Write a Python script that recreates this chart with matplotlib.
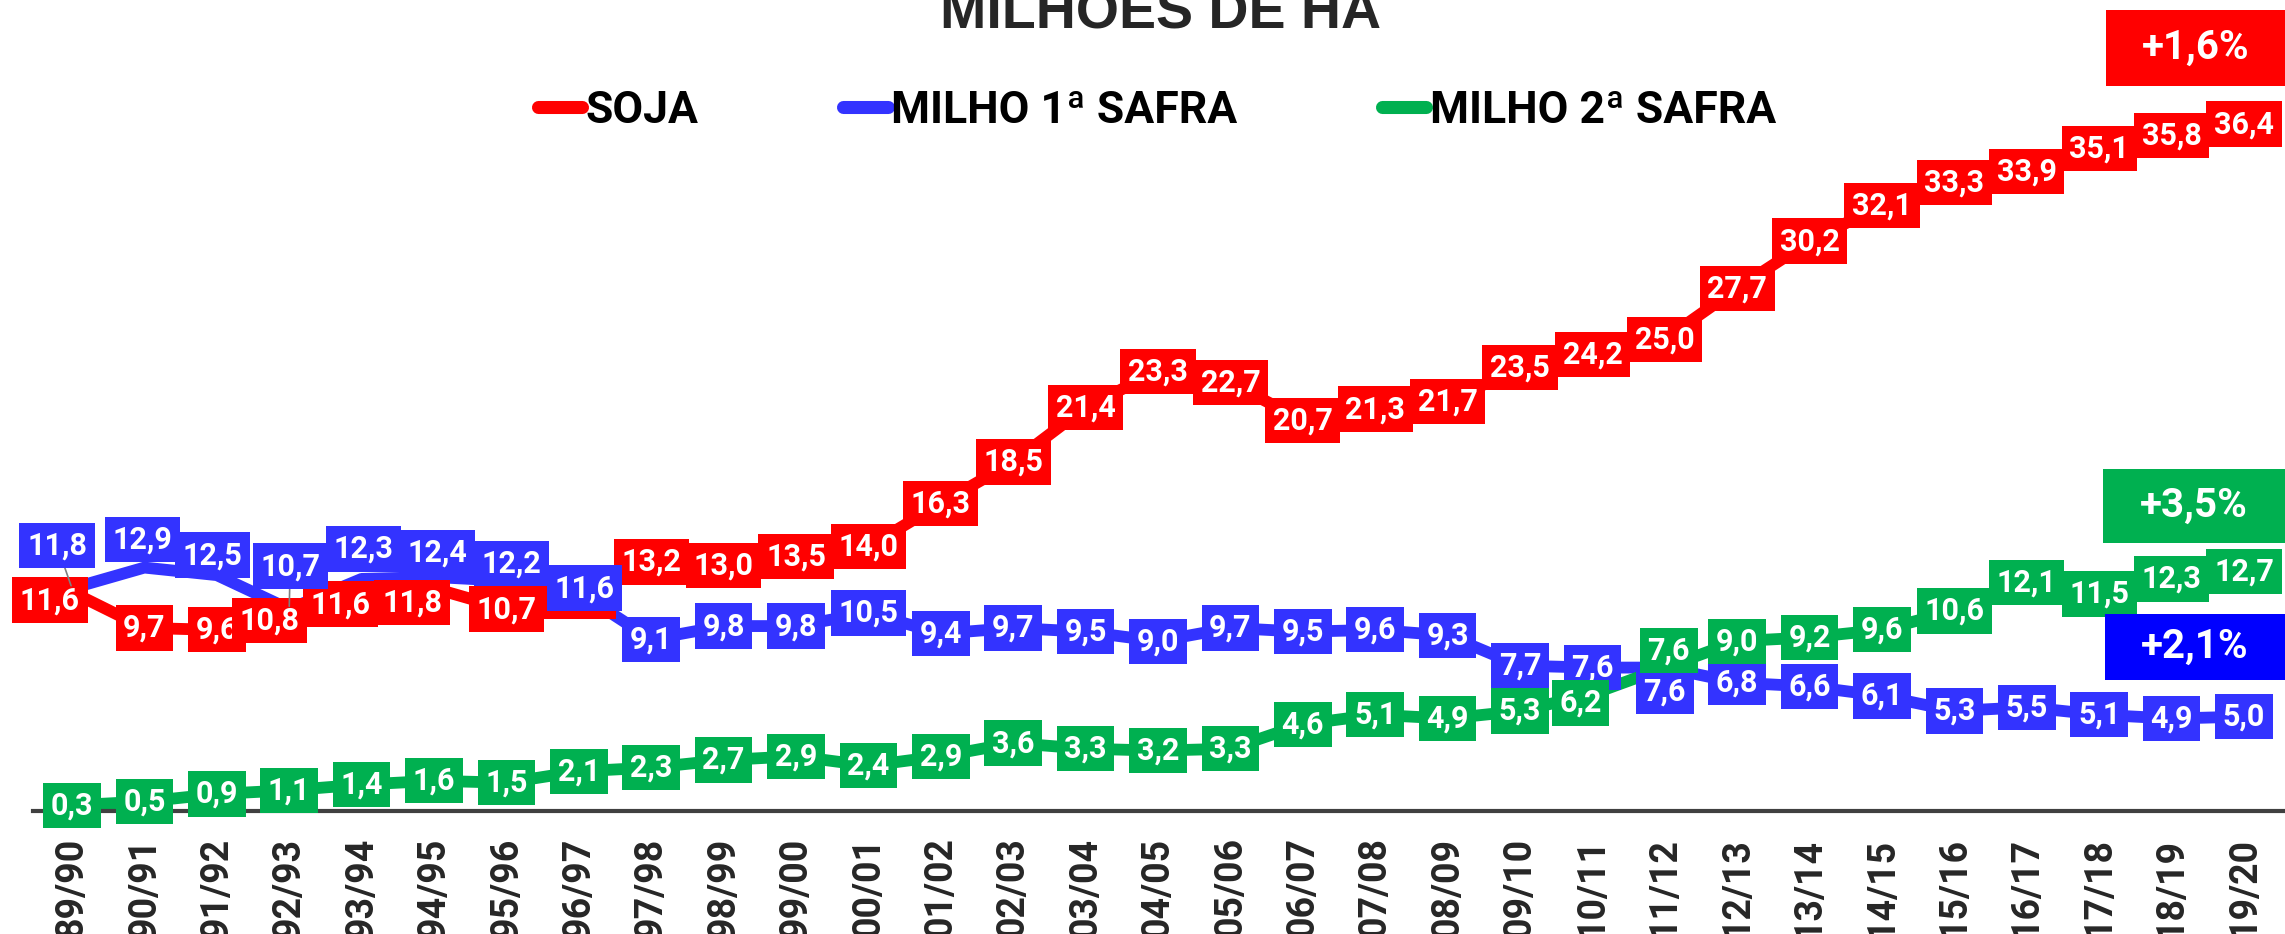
import matplotlib
matplotlib.use("Agg")
import matplotlib.pyplot as plt
from matplotlib.lines import Line2D
from matplotlib.patches import Rectangle

# data (milhoes de ha)
safras = ['89/90', '90/91', '91/92', '92/93', '93/94', '94/95', '95/96', '96/97',
          '97/98', '98/99', '99/00', '00/01', '01/02', '02/03', '03/04', '04/05',
          '05/06', '06/07', '07/08', '08/09', '09/10', '10/11', '11/12', '12/13',
          '13/14', '14/15', '15/16', '16/17', '17/18', '18/19', '19/20']
soja = [11.6, 9.7, 9.6, 10.8, 11.6, 11.8, 10.7, 11.4, 13.2, 13.0, 13.5, 14.0,
        16.3, 18.5, 21.4, 23.3, 22.7, 20.7, 21.3, 21.7, 23.5, 24.2, 25.0, 27.7,
        30.2, 32.1, 33.3, 33.9, 35.1, 35.8, 36.4]
milho1 = [11.8, 12.9, 12.5, 10.7, 12.3, 12.4, 12.2, 11.6, 9.1, 9.8, 9.8, 10.5,
          9.4, 9.7, 9.5, 9.0, 9.7, 9.5, 9.6, 9.3, 7.7, 7.6, 7.6, 6.8,
          6.6, 6.1, 5.3, 5.5, 5.1, 4.9, 5.0]
milho2 = [0.3, 0.5, 0.9, 1.1, 1.4, 1.6, 1.5, 2.1, 2.3, 2.7, 2.9, 2.4,
          2.9, 3.6, 3.3, 3.2, 3.3, 4.6, 5.1, 4.9, 5.3, 6.2, 7.6, 9.0,
          9.2, 9.6, 10.6, 12.1, 11.5, 12.3, 12.7]
series_names = ['SOJA', 'MILHO 1ª SAFRA', 'MILHO 2ª SAFRA']
growth = ['+1,6%', '+2,1%', '+3,5%']

RED = '#FF0000'
BLUE = '#3333FF'
GREEN = '#00B050'

# label offsets in pixels (dx, dy) where labels were moved to avoid overlap
off_soja = {0: (-22, -8), 3: (-20, -13), 4: (-21, -12), 5: (-22, -14)}
off_milho1 = {0: (-15, 43), 1: (-2, 28), 2: (-4, 20), 3: (1, 43), 4: (2, 30),
              5: (3, 24), 6: (5, 17), 7: (6, 4), 22: (0, -24)}
off_milho2 = {21: (-12, -9), 22: (4, 17)}
leaders = {('milho1', 0), ('milho1', 3)}

W, H = 2285, 934
fig = plt.figure(figsize=(W / 100, H / 100), dpi=100)
ax = fig.add_axes([33 / W, (H - 811) / H, 1 - 33 / W, 811 / H])

x = list(range(len(safras)))
lw = 8.5
ax.plot(x, soja, color=RED, lw=lw, zorder=2)
ax.plot(x, milho1, color=BLUE, lw=lw, zorder=2)
ax.plot(x, milho2, color=GREEN, lw=lw, zorder=2)


def fmt(v):
    return f'{v:.1f}'.replace('.', ',')


def add_labels(values, color, offsets, key, z):
    for i, v in enumerate(values):
        dx, dy = offsets.get(i, (0, 0))
        arrow = None
        if (key, i) in leaders:
            arrow = dict(arrowstyle='-', color='#808080', lw=1.2,
                         shrinkA=0, shrinkB=2)
        ax.annotate(fmt(v), xy=(i, v), xytext=(dx, dy), textcoords='offset pixels',
                    ha='center', va='center', color='white', fontsize=22,
                    fontweight='bold', fontfamily='Roboto', zorder=z,
                    bbox=dict(boxstyle='square,pad=0.25', fc=color, ec='none'),
                    arrowprops=arrow)


add_labels(soja, RED, off_soja, 'soja', 5)
add_labels(milho1, BLUE, off_milho1, 'milho1', 6)
add_labels(milho2, GREEN, off_milho2, 'milho2', 7)

ax.set_xlim(-(72 - 33) / 72.4, (W - 72) / 72.4)
ax.set_ylim(0, 811 / 18.87)
ax.set_xticks(x)
ax.set_xticklabels(safras, rotation=90, fontsize=27, fontweight='bold',
                   fontfamily='Roboto', color='#262626')
ax.tick_params(axis='x', length=0, pad=19)
ax.set_yticks([])
for s in ['top', 'right', 'left']:
    ax.spines[s].set_visible(False)
ax.spines['bottom'].set_color('#404040')
ax.spines['bottom'].set_linewidth(3)
ax.patch.set_alpha(0)

# title (cut at the top, like the source)
fig.text(1161 / W, 1 - 28 / H, 'MILHÕES DE HA', ha='center', va='baseline',
         fontsize=40, fontweight='bold', fontfamily='Liberation Sans', color='#262626')

# legend
handles = [Line2D([], [], color=c, lw=9.4, solid_capstyle='round')
           for c in (RED, BLUE, GREEN)]
fig.legend(handles, series_names, loc='center', bbox_to_anchor=(1157 / W, 1 - 111 / H),
           ncol=3, frameon=False, handlelength=1.0, handletextpad=0.08,
           columnspacing=3.25, prop=dict(family='Roboto', weight='bold', size=32))

# growth boxes on the right
boxes = [(2106, 10, 86, RED, growth[0]),
         (2105, 614, 680, '#0000FF', growth[1]),
         (2103, 469, 543, GREEN, growth[2])]
for x0, y0, y1, c, t in boxes:
    fig.add_artist(Rectangle((x0 / W, 1 - y1 / H), (W - x0) / W, (y1 - y0) / H,
                             transform=fig.transFigure, fc=c, ec='none', zorder=8))
    fig.text((x0 + W) / 2 / W, 1 - (y0 + y1) / 2 / H, t, ha='center', va='center',
             color='white', fontsize=29, fontweight='bold', fontfamily='Roboto', zorder=9)

fig.savefig('out.png', dpi=100)
